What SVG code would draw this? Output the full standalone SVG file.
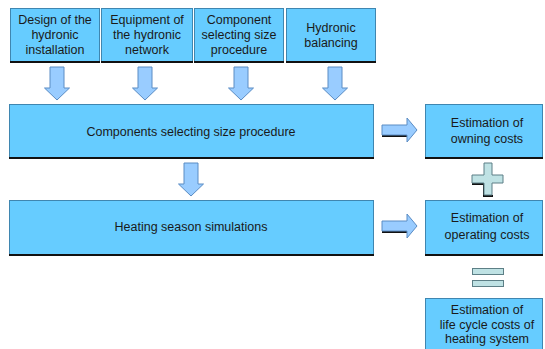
<svg xmlns="http://www.w3.org/2000/svg" width="545" height="349" viewBox="0 0 545 349">
<defs>
<style>
.box{fill:#66CCFF;stroke:#3f86b0;stroke-width:1}
.sh{stroke:#111;stroke-width:2}
.t{font-family:"Liberation Sans",Arial,sans-serif;font-size:12.5px;fill:#1a1a1a;text-anchor:middle}
.arr{fill:#99CCFF;stroke:#5a8cc4;stroke-width:1}
.op{fill:#BFE2E4;stroke:#5d7f86;stroke-width:1}
</style>
<path id="dn" d="M-7,0 H7 V21 H12.5 L0,33 L-12.5,21 H-7 Z"/>
<path id="rt" d="M0,-5 H25 V-12 L35,0 L25,12 V5 H0 Z"/>
</defs>
<g id="n1"><rect class="box" x="10.5" y="8.5" width="89" height="53"/><line class="sh" x1="10" y1="62" x2="100" y2="62"/><text class="t" x="55" y="24">Design of the</text><text class="t" x="55" y="39">hydronic</text><text class="t" x="55" y="54">installation</text></g>
<g id="n2"><rect class="box" x="101.5" y="8.5" width="91" height="53"/><line class="sh" x1="101" y1="62" x2="193" y2="62"/><text class="t" x="147" y="24">Equipment of</text><text class="t" x="147" y="39">the hydronic</text><text class="t" x="147" y="54">network</text></g>
<g id="n3"><rect class="box" x="194.5" y="8.5" width="89" height="53"/><line class="sh" x1="194" y1="62" x2="284" y2="62"/><text class="t" x="239" y="24">Component</text><text class="t" x="239" y="39">selecting size</text><text class="t" x="239" y="54">procedure</text></g>
<g id="n4"><rect class="box" x="286.5" y="8.5" width="89" height="53"/><line class="sh" x1="286" y1="62" x2="376" y2="62"/><text class="t" x="331" y="32">Hydronic</text><text class="t" x="331" y="47">balancing</text></g>
<g id="n5"><rect class="box" x="9.5" y="104.5" width="364" height="53"/><line class="sh" x1="9" y1="158" x2="374" y2="158"/><text class="t" x="191" y="136">Components selecting size procedure</text></g>
<g id="n6"><rect class="box" x="9.5" y="200.5" width="364" height="54"/><line class="sh" x1="9" y1="255" x2="374" y2="255"/><text class="t" x="191" y="231">Heating season simulations</text></g>
<g id="n7"><rect class="box" x="425.5" y="104.5" width="117" height="53"/><line class="sh" x1="425" y1="158" x2="543" y2="158"/><text class="t" x="487" y="127">Estimation of</text><text class="t" x="487" y="143">owning costs</text></g>
<g id="n8"><rect class="box" x="425.5" y="200.5" width="117" height="54"/><line class="sh" x1="425" y1="255" x2="543" y2="255"/><text class="t" x="487" y="222">Estimation of</text><text class="t" x="487" y="239">operating costs</text></g>
<g id="n9"><rect class="box" x="425.5" y="298.5" width="117" height="55"/><text class="t" x="487" y="314">Estimation of</text><text class="t" x="487" y="329">life cycle costs of</text><text class="t" x="487" y="343">heating system</text></g>
<g id="connectors">
<use href="#dn" class="arr" x="57" y="67"/>
<use href="#dn" class="arr" x="145" y="67"/>
<use href="#dn" class="arr" x="241" y="67"/>
<use href="#dn" class="arr" x="335" y="67"/>
<use href="#dn" class="arr" x="191" y="163"/>
<line x1="382" y1="136" x2="407" y2="136" stroke="#111" stroke-width="2"/>
<use href="#rt" class="arr" x="382" y="130"/>
<line x1="382" y1="232" x2="407" y2="232" stroke="#111" stroke-width="2"/>
<use href="#rt" class="arr" x="382" y="226"/>
<path d="M472,184 H484 V196 H493" fill="none" stroke="#111" stroke-width="2"/>
<path class="op" d="M484,163 H492 V175 H503 V183 H492 V195 H484 V183 H472 V175 H484 Z"/>
<rect class="op" x="472.5" y="268.5" width="31" height="6"/>
<rect class="op" x="472.5" y="280.5" width="31" height="6"/>
</g>
</svg>
